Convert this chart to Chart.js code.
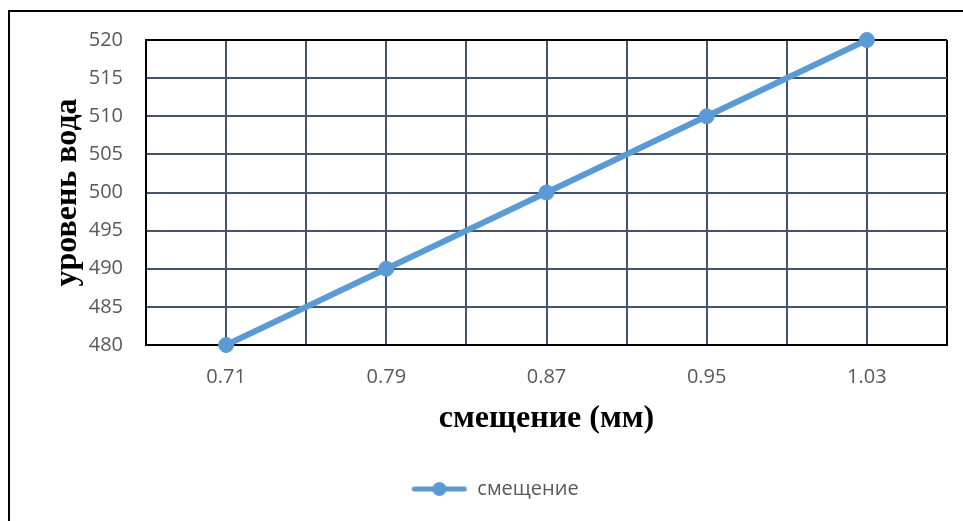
<!DOCTYPE html>
<html>
<head>
<meta charset="utf-8">
<script src="https://cdn.jsdelivr.net/npm/chart.js@4/dist/chart.umd.min.js"></script>
<style>
  html, body { margin: 0; padding: 0; background: #fff; }
  #frame {
    position: absolute; left: 8px; top: 10px; width: 1000px; height: 600px;
    border-left: 2px solid #000; border-top: 2px solid #000;
  }
  #wrap { position: absolute; left: 0; top: 0; width: 963px; height: 521px; }
</style>
</head>
<body>
<div id="frame"></div>
<div id="wrap"><canvas id="levelChart"></canvas></div>
<script>
// данные: смещение (мм) и уровень воды
const displacement = ['0.71', '0.79', '0.87', '0.95', '1.03'];
const waterLevel = [480, 490, 500, 510, 520];
const yMin = 480;
const yMax = 520;
const yStep = 5;

const BLUE = '#5B9BD5';
const GRID = '#44546A';
const TICK_FONT = { family: '"Open Sans", sans-serif', size: 20 };
const TITLE_FONT = { family: '"Liberation Serif", "Times New Roman", serif', size: 32, weight: 'bold' };

// значок легенды: линия с точкой посередине
function legendIcon() {
  const c = document.createElement('canvas');
  c.width = 56; c.height = 16;
  const g = c.getContext('2d');
  g.strokeStyle = BLUE;
  g.lineWidth = 5;
  g.lineCap = 'round';
  g.beginPath(); g.moveTo(3, 8); g.lineTo(53, 8); g.stroke();
  g.fillStyle = BLUE;
  g.beginPath(); g.arc(28, 8, 7, 0, Math.PI * 2); g.fill();
  return c;
}

const icon = legendIcon();

new Chart(document.getElementById('levelChart'), {
  type: 'line',
  data: {
    labels: displacement,
    datasets: [{
      label: 'смещение',
      data: waterLevel,
      borderColor: BLUE,
      backgroundColor: BLUE,
      borderWidth: 6,
      pointRadius: 7.5,
      pointBorderWidth: 1,
      pointBackgroundColor: BLUE,
      pointBorderColor: BLUE,
      tension: 0,
      fill: false,
      clip: false,
      xAxisID: 'x'
    }]
  },
  options: {
    responsive: true,
    maintainAspectRatio: false,
    animation: false,
    layout: { padding: { left: 43, right: 16, top: 40, bottom: 12 } },
    plugins: {
      tooltip: { enabled: false },
      legend: {
        position: 'bottom',
        labels: {
          font: TICK_FONT,
          color: '#595959',
          usePointStyle: true,
          pointStyleWidth: 56,
          padding: 10,
          generateLabels: chart => chart.data.datasets.map((ds, i) => ({
            text: ds.label,
            pointStyle: icon,
            fontColor: '#595959',
            datasetIndex: i,
            lineWidth: 0,
            strokeStyle: 'transparent',
            fillStyle: 'transparent'
          }))
        }
      }
    },
    scales: {
      x: {
        type: 'category',
        offset: true,
        grid: {
          offset: true,
          drawTicks: false,
          lineWidth: 2,
          color: ctx => (ctx.tick ? GRID : '#000')
        },
        border: { display: true, color: '#000', width: 2 },
        ticks: { font: TICK_FONT, color: '#595959', padding: 20 },
        title: {
          display: true,
          text: 'смещение (мм)',
          font: TITLE_FONT,
          color: '#000',
          padding: { top: 0, bottom: 31 }
        },
        afterFit: s => { s.height = 124; }
      },
      xMid: {
        type: 'category',
        position: 'bottom',
        offset: true,
        grid: { offset: false, drawTicks: false, lineWidth: 2, color: GRID },
        border: { display: false },
        ticks: { display: false },
        afterFit: s => { s.height = 0; }
      },
      y: {
        min: yMin,
        max: yMax,
        grid: {
          drawTicks: false,
          lineWidth: 2,
          color: ctx => (ctx.tick && ctx.tick.value === yMax ? '#000' : GRID)
        },
        border: { display: true, color: '#000', width: 2 },
        ticks: { stepSize: yStep, font: TICK_FONT, color: '#595959', padding: 23 },
        title: {
          display: true,
          text: 'уровень вода',
          font: TITLE_FONT,
          color: '#000',
          padding: { top: 6, bottom: 0 }
        },
        afterFit: s => { s.width = 103; }
      }
    }
  }
});
</script>
</body>
</html>
